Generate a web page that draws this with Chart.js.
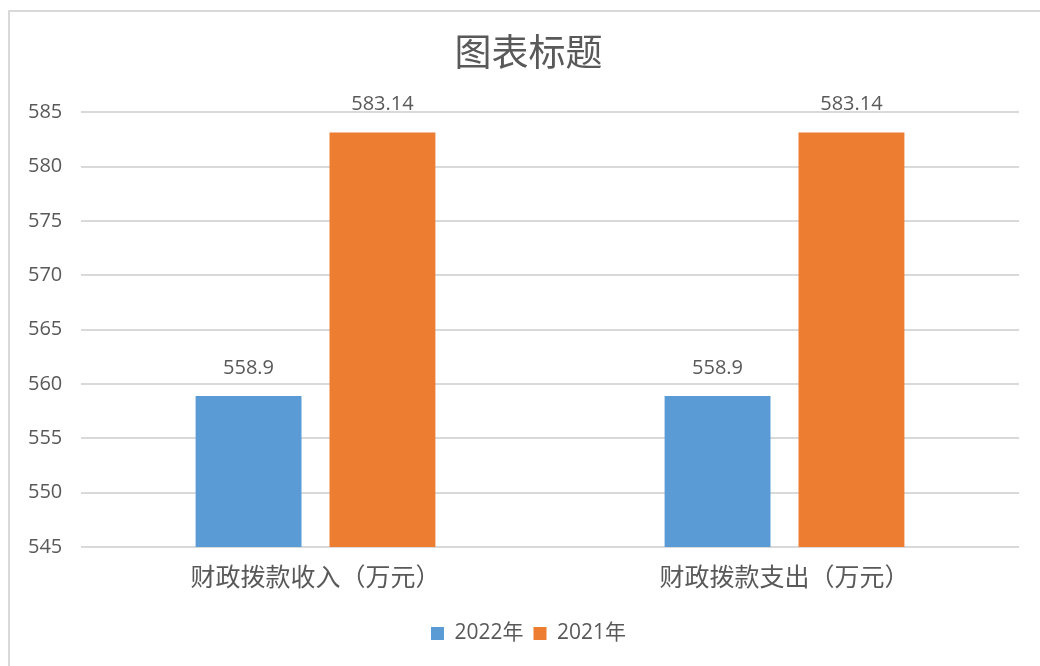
<!DOCTYPE html>
<html>
<head>
<meta charset="utf-8">
<script src="https://cdn.jsdelivr.net/npm/chart.js@4/dist/chart.umd.min.js"></script>
<style>
  body { margin: 0; background: #fff; }
  #frame {
    position: absolute; left: 8px; top: 10px; width: 1100px; height: 700px;
    border: 2px solid #d9d9d9; box-sizing: border-box;
  }
  #wrap { position: absolute; left: 0; top: 0; width: 1040px; height: 666px; }
</style>
</head>
<body>
<div id="frame"></div>
<div id="wrap"><canvas id="barChart" width="1040" height="666"></canvas></div>
<script>
// chart data
const categories = ['财政拨款收入（万元）', '财政拨款支出（万元）'];
const seriesNames = ['2022年', '2021年'];
const values2022 = [558.9, 558.9];
const values2021 = [583.14, 583.14];
const yMin = 545, yMax = 585, yStep = 5;

const textColor = '#595959';
const numFont = "'Open Sans', 'Noto Sans CJK SC', sans-serif";
const cjkFont = "'Noto Sans CJK SC', sans-serif";

// draws the value above each bar
const valueLabels = {
    id: 'valueLabels',
    afterDatasetsDraw(chart) {
        const c = chart.ctx;
        c.save();
        c.font = '20px ' + numFont;
        c.fillStyle = textColor;
        c.textAlign = 'center';
        c.textBaseline = 'bottom';
        chart.data.datasets.forEach((ds, i) => {
            chart.getDatasetMeta(i).data.forEach((bar, j) => {
                c.fillText(String(ds.data[j]), bar.x, bar.y - 18);
            });
        });
        c.restore();
    }
};

const ctx = document.getElementById('barChart').getContext('2d');
const barChart = new Chart(ctx, {
    type: 'bar',
    data: {
        labels: categories,
        datasets: [
            { label: seriesNames[0], data: values2022, backgroundColor: '#5B9BD5' },
            { label: seriesNames[1], data: values2021, backgroundColor: '#ED7D31' }
        ]
    },
    options: {
        responsive: false,
        animation: false,
        categoryPercentage: 0.571,
        barPercentage: 0.791,
        layout: { padding: { left: 38, right: 21, top: 0, bottom: 12 } },
        plugins: {
            title: {
                display: true,
                text: '图表标题',
                color: textColor,
                font: { family: cjkFont, size: 37, weight: 'normal' },
                padding: { top: 30, bottom: 38 }
            },
            legend: {
                position: 'bottom',
                labels: {
                    color: textColor,
                    font: { family: numFont, size: 21 },
                    boxWidth: 13,
                    boxHeight: 13,
                    padding: 10
                }
            },
            tooltip: { enabled: false }
        },
        scales: {
            x: {
                grid: { display: false },
                border: { display: false },
                ticks: {
                    color: textColor,
                    font: { family: cjkFont, size: 25 },
                    padding: 6
                },
                afterFit(scale) { scale.height = 66; }
            },
            y: {
                min: yMin,
                max: yMax,
                grid: { color: '#d9d9d9', lineWidth: 2, drawTicks: false },
                border: { display: false },
                ticks: {
                    stepSize: yStep,
                    color: textColor,
                    font: { family: numFont, size: 20 },
                    // mirrored so the labels are not clipped to the narrow axis box
                    mirror: true,
                    padding: -53
                },
                afterFit(scale) { scale.width = 43; }
            }
        }
    },
    plugins: [valueLabels]
});
</script>
</body>
</html>
